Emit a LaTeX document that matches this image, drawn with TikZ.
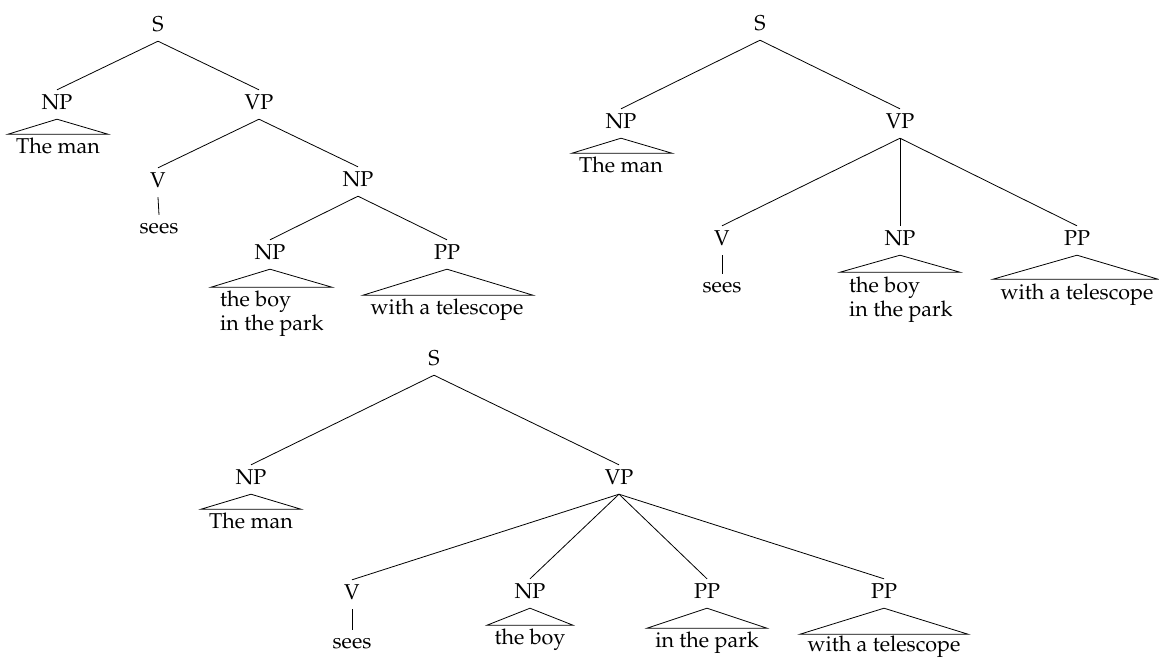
\documentclass[tikz,border=0pt]{standalone}
\usepackage[T1]{fontenc}
\renewcommand{\rmdefault}{ppl}
\newcommand\fsz{\fontsize{21.5}{24.5}\selectfont}
\tikzset{
  cat/.style={inner xsep=0pt, inner ysep=4pt, text height=15pt, text depth=6pt, anchor=base, font=\fsz},
  word/.style={inner xsep=0pt, inner ysep=3pt, text height=15pt, text depth=4pt, anchor=base, font=\fsz},
  multi/.style={inner sep=0pt, anchor=base west, font=\fsz},
  edge/.style={line width=0.8pt},
}
\begin{document}
\begin{tikzpicture}[x=1pt,y=-1pt]
\useasboundingbox (0,0) rectangle (1159,657);
% ---------- Tree 1 ----------
\node[cat] (S1) at (158,31) {S};
\node[cat] (NP1) at (57,109) {NP};
\node[cat] (VP1) at (259,109) {VP};
\node[cat] (V1) at (158,187) {V};
\node[cat] (NP1b) at (358,186) {NP};
\node[cat] (NP1c) at (270,259) {NP};
\node[cat] (PP1) at (447,259) {PP};
\node[word] (man1) at (58,153) {The man};
\node[word] (sees1) at (159,233) {sees};
\node[multi] (boy1) at (220,306) {\begin{tabular}[t]{@{}l@{}}the boy\\in the park\end{tabular}};
\node[word] (tel1) at (447,314) {with a telescope};
\draw[edge] (S1.south) -- (NP1.north);
\draw[edge] (S1.south) -- (VP1.north);
\draw[edge] (VP1.south) -- (V1.north);
\draw[edge] (VP1.south) -- (NP1b.north);
\draw[edge] (NP1b.south) -- (NP1c.north);
\draw[edge] (NP1b.south) -- (PP1.north);
\draw[edge] (V1.south) -- (sees1.north);
\draw[edge] (NP1.south) -- ++(-49,15) -- ++(100,0) -- cycle;
\draw[edge] (NP1c.south) -- ++(-59,18) -- ++(121,0) -- cycle;
\draw[edge] (PP1.south) -- ++(-84,26) -- ++(170,0) -- cycle;
% ---------- Tree 2 ----------
\node[cat] (S2) at (760,30) {S};
\node[cat] (NP2) at (621,128) {NP};
\node[cat] (VP2) at (900,128) {VP};
\node[cat] (V2) at (722,245) {V};
\node[cat] (NP2b) at (900,245) {NP};
\node[cat] (PP2) at (1077,245) {PP};
\node[word] (man2) at (621,172) {The man};
\node[word] (sees2) at (722,292) {sees};
\node[multi] (boy2) at (849,292) {\begin{tabular}[t]{@{}l@{}}the boy\\in the park\end{tabular}};
\node[word] (tel2) at (1077,299) {with a telescope};
\draw[edge] (S2.south) -- (NP2.north);
\draw[edge] (S2.south) -- (VP2.north);
\draw[edge] (VP2.south) -- (V2.north);
\draw[edge] (VP2.south) -- (NP2b.north);
\draw[edge] (VP2.south) -- (PP2.north);
\draw[edge] (V2.south) -- (sees2.north);
\draw[edge] (NP2.south) -- ++(-49,15) -- ++(100,0) -- cycle;
\draw[edge] (NP2b.south) -- ++(-60,17) -- ++(120,0) -- cycle;
\draw[edge] (PP2.south) -- ++(-84,24) -- ++(165,0) -- cycle;
% ---------- Tree 3 ----------
\node[cat] (S3) at (434,365) {S};
\node[cat] (NP3) at (251,484) {NP};
\node[cat] (VP3) at (619,484) {VP};
\node[cat] (V3) at (352,599) {V};
\node[cat] (NP3b) at (530,598) {NP};
\node[cat] (PP3a) at (707,598) {PP};
\node[cat] (PP3b) at (884,598) {PP};
\node[word] (man3) at (251,528) {The man};
\node[word] (sees3) at (352,648) {sees};
\node[word] (boy3) at (530,644) {the boy};
\node[word] (park3) at (707,647) {in the park};
\node[word] (tel3) at (884,651) {with a telescope};
\draw[edge] (S3.south) -- (NP3.north);
\draw[edge] (S3.south) -- (VP3.north);
\draw[edge] (VP3.south) -- (V3.north);
\draw[edge] (VP3.south) -- (NP3b.north);
\draw[edge] (VP3.south) -- (PP3a.north);
\draw[edge] (VP3.south) -- (PP3b.north);
\draw[edge] (V3.south) -- (sees3.north);
\draw[edge] (NP3.south) -- ++(-50,15) -- ++(100,0) -- cycle;
\draw[edge] (NP3b.south) -- ++(-43,17) -- ++(86,0) -- cycle;
\draw[edge] (PP3a.south) -- ++(-60,20) -- ++(120,0) -- cycle;
\draw[edge] (PP3b.south) -- ++(-84,26) -- ++(168,0) -- cycle;
\end{tikzpicture}
\end{document}
